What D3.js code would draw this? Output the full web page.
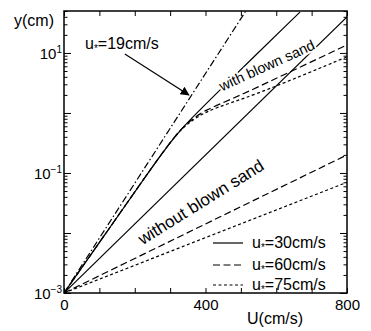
<!DOCTYPE html>
<html>
<head>
<meta charset="utf-8">
<script src="https://cdn.jsdelivr.net/npm/d3@7"></script>
<style>
  body { margin: 0; background: #fff; }
  svg { display: block; font-family: "Liberation Sans", Arial, sans-serif; }
</style>
</head>
<body>
<svg id="chart" width="371" height="331"></svg>
<script>
'use strict';

// U in cm/s, y in cm
var xTicks = [0, 100, 200, 300, 400, 500, 600, 700, 800];
var xLabels = [0, 400, 800];
var yDecades = [-3, -2, -1, 0, 1];
var yLabelExp = ['1', '\u22121', '\u22123'];

// u* = 19cm/s (threshold)
var thresholdU = [0, 514];
var thresholdY = [0.001, 50];

// without blown sand
var withoutU = [0, 800];
var without30 = [0.001, 40];
var without60 = [0.001, 0.2];
var without75 = [0.001, 0.07];

// with blown sand
var with30U = [0, 122, 243, 319, 384, 435, 667];
var with30Y = [0.001, 0.0106, 0.112, 0.464, 1.12, 2.24, 48];
var with60U = [0, 122, 243, 319, 356, 399, 469, 554, 800];
var with60Y = [0.001, 0.0106, 0.112, 0.464, 0.74, 1.12, 1.65, 2.8, 13.6];
var with75U = [0, 122, 243, 319, 356, 399, 469, 554, 800];
var with75Y = [0.001, 0.0106, 0.112, 0.464, 0.71, 1.04, 1.47, 2.15, 8.6];

var legendItems = ['30', '60', '75'];

(function () {
    var pLeft = 64, pRight = 347, pTop = 11, pBottom = 293;

    var svg = d3.select('#chart');

    var x = d3.scaleLinear().domain([0, 800]).range([pLeft, pRight]);
    var y = d3.scaleLog().domain([0.001, 50]).range([pBottom, pTop]);

    var styles = {
        solid: null,
        dashed: '7,3.5',
        dotted: '3,2.5',
        dashdot: '7,2.5,1.5,2.5'
    };

    var defs = svg.append('defs');
    defs.append('clipPath')
        .attr('id', 'plot-clip')
        .append('rect')
        .attr('x', pLeft)
        .attr('y', pTop)
        .attr('width', pRight - pLeft)
        .attr('height', pBottom - pTop);

    defs.append('marker')
        .attr('id', 'arrow')
        .attr('viewBox', '0 0 10 10')
        .attr('refX', 9)
        .attr('refY', 5)
        .attr('markerWidth', 9)
        .attr('markerHeight', 9)
        .attr('markerUnits', 'userSpaceOnUse')
        .attr('orient', 'auto')
        .append('path')
        .attr('d', 'M0,0L10,5L0,10z')
        .style('fill', 'black');

    // ticks
    var xAxisB = d3.axisBottom(x).tickValues(xTicks).tickSize(-5).tickSizeOuter(0)
        .tickPadding(6)
        .tickFormat(function (d) { return xLabels.indexOf(d) >= 0 ? d : ''; });
    var xAxisT = d3.axisTop(x).tickValues(xTicks).tickSize(-5).tickSizeOuter(0)
        .tickFormat('');

    var majors = yDecades.map(function (e) { return Math.pow(10, e); });
    var minors = [];
    yDecades.forEach(function (e) {
        for (var k = 2; k <= 9; k += 1) {
            var v = k * Math.pow(10, e);
            if (v <= 50) minors.push(v);
        }
    });

    function yAxes(axisFn, pos) {
        var g = svg.append('g').attr('transform', 'translate(' + pos + ',0)');
        g.append('g').call(axisFn(y).tickValues(majors).tickSize(-7).tickSizeOuter(0).tickFormat(''));
        g.append('g').call(axisFn(y).tickValues(minors).tickSize(-3.5).tickSizeOuter(0).tickFormat(''));
        g.selectAll('.domain').remove();
        g.selectAll('line').style('stroke-width', 1);
    }
    yAxes(d3.axisLeft, pLeft);
    yAxes(d3.axisRight, pRight);

    var gxb = svg.append('g')
        .attr('transform', 'translate(0,' + pBottom + ')')
        .call(xAxisB);
    var gxt = svg.append('g')
        .attr('transform', 'translate(0,' + pTop + ')')
        .call(xAxisT);
    [gxb, gxt].forEach(function (g) {
        g.selectAll('.domain').remove();
        g.selectAll('line').style('stroke-width', 1);
    });
    gxb.selectAll('text')
        .style('font-size', '15px')
        .style('font-family', '"Liberation Sans", Arial, sans-serif')
        .style('fill', 'black');

    // y labels
    [1, -1, -3].forEach(function (e, i) {
        var t = svg.append('text')
            .attr('x', pLeft - 2)
            .attr('y', y(Math.pow(10, e)) + 6)
            .attr('text-anchor', 'end')
            .style('font-size', '15px');
        t.append('tspan').text('10');
        t.append('tspan')
            .attr('dy', -6)
            .style('font-size', '10px')
            .text(yLabelExp[i]);
    });

    // frame
    svg.append('rect')
        .attr('x', pLeft)
        .attr('y', pTop)
        .attr('width', pRight - pLeft)
        .attr('height', pBottom - pTop)
        .style('fill', 'none')
        .style('stroke', 'black')
        .style('stroke-width', 1.5);

    // lines
    var plot = svg.append('g').attr('clip-path', 'url(#plot-clip)');

    function draw(us, ys, dash, curve) {
        var line = d3.line()
            .x(function (d) { return x(d[0]); })
            .y(function (d) { return y(d[1]); })
            .curve(curve || d3.curveLinear);
        plot.append('path')
            .attr('d', line(d3.zip(us, ys)))
            .style('fill', 'none')
            .style('stroke', 'black')
            .style('stroke-width', 1.2)
            .style('stroke-dasharray', dash);
    }

    draw(thresholdU, thresholdY, styles.dashdot);
    draw(withoutU, without30, styles.solid);
    draw(withoutU, without60, styles.dashed);
    draw(withoutU, without75, styles.dotted);
    draw(with75U, with75Y, styles.dotted, d3.curveBasis);
    draw(with60U, with60Y, styles.dashed, d3.curveBasis);
    draw(with30U, with30Y, styles.solid, d3.curveBasis);

    // labels
    function uStar(sel, rest) {
        sel.append('tspan').text('u');
        sel.append('tspan').attr('dy', 3).style('font-size', '10px').text('*');
        sel.append('tspan').attr('dy', -3).text(rest);
    }

    svg.append('text')
        .attr('x', 14)
        .attr('y', 26)
        .style('font-size', '16px')
        .text('y(cm)');

    svg.append('text')
        .attr('x', 275)
        .attr('y', 324)
        .attr('text-anchor', 'middle')
        .style('font-size', '16px')
        .text('U(cm/s)');

    svg.append('text')
        .attr('x', 85)
        .attr('y', 49)
        .style('font-size', '16px')
        .call(uStar, '=19cm/s');

    svg.append('line')
        .attr('x1', x(172))
        .attr('y1', y(9.6))
        .attr('x2', x(353))
        .attr('y2', y(2.0))
        .style('stroke', 'black')
        .style('stroke-width', 1.2)
        .attr('marker-end', 'url(#arrow)');

    svg.append('text')
        .attr('transform', 'translate(269,70) rotate(-24.5)')
        .attr('text-anchor', 'middle')
        .style('font-size', '14.5px')
        .style('stroke', 'white')
        .style('stroke-width', 4)
        .style('paint-order', 'stroke')
        .text('with blown sand');

    svg.append('text')
        .attr('transform', 'translate(204,207) rotate(-32)')
        .attr('text-anchor', 'middle')
        .style('font-size', '17px')
        .style('stroke', 'white')
        .style('stroke-width', 3)
        .style('paint-order', 'stroke')
        .text('without blown sand');

    // legend
    var legendY = [243, 265, 285];
    var legendDash = [styles.solid, styles.dashed, styles.dotted];
    legendItems.forEach(function (v, i) {
        svg.append('line')
            .attr('x1', 213)
            .attr('x2', 243)
            .attr('y1', legendY[i])
            .attr('y2', legendY[i])
            .style('stroke', 'black')
            .style('stroke-width', 1.2)
            .style('stroke-dasharray', legendDash[i]);
        svg.append('text')
            .attr('x', 252)
            .attr('y', legendY[i] + 5)
            .style('font-size', '16px')
            .call(uStar, '=' + v + 'cm/s');
    });
})();
</script>
</body>
</html>
